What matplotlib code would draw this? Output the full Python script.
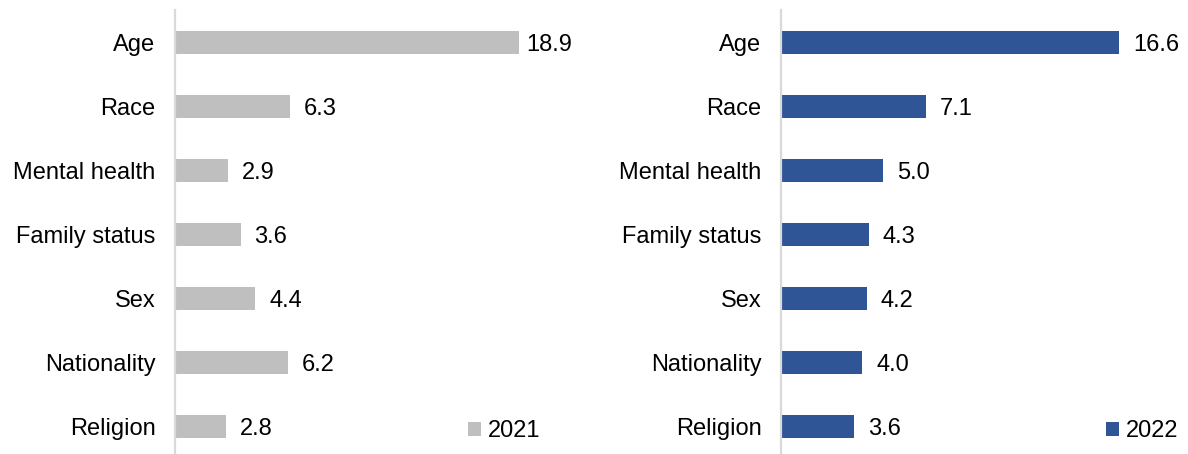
import matplotlib
matplotlib.use("Agg")
import matplotlib.pyplot as plt

categories = ["Age", "Race", "Mental health", "Family status", "Sex", "Nationality", "Religion"]
values_2021 = [18.9, 6.3, 2.9, 3.6, 4.4, 6.2, 2.8]
values_2022 = [16.6, 7.1, 5.0, 4.3, 4.2, 4.0, 3.6]
series = [("2021", values_2021, "#BFBFBF"), ("2022", values_2022, "#2F5597")]

plt.rcParams["font.family"] = ["Liberation Sans", "DejaVu Sans"]
W, H = 1188, 454
fig = plt.figure(figsize=(W / 100, H / 100), dpi=100)

# axes boxes in pixels: (left, right, xmax, legend anchor x)
boxes = [(175, 572, 21.81, 555), (781, 1180, 19.6, 1193)]
top_px, bot_px = 10, 458.5
fs = 17
label_w = 46  # approx pixel width of a 4-char label

for (name, vals, color), (l, r, xmax, lx) in zip(series, boxes):
    ax = fig.add_axes([l / W, (H - bot_px) / H, (r - l) / W, (bot_px - top_px) / H])
    ppu = (r - l) / xmax
    ypos = range(len(categories))
    ax.barh(ypos, vals, height=0.36, color=color, label=name)
    ax.set_ylim(6.5, -0.5)
    ax.set_xlim(0, xmax)
    for y, v in zip(ypos, vals):
        x = v + 14 / ppu
        if x + label_w / ppu > xmax:
            ax.text(xmax, y, f"{v:.1f}", va="center_baseline", ha="right", fontsize=fs)
        else:
            ax.text(x, y, f"{v:.1f}", va="center_baseline", ha="left", fontsize=fs)
    ax.set_yticks(list(ypos))
    ax.set_yticklabels(categories, fontsize=fs, va="center_baseline")
    ax.tick_params(axis="y", length=0, pad=14)
    ax.set_xticks([])
    for s in ["top", "right", "bottom"]:
        ax.spines[s].set_visible(False)
    ax.spines["left"].set_color("#D9D9D9")
    ax.spines["left"].set_linewidth(1.6)
    ax.legend(loc="lower right", bbox_to_anchor=(lx / W, -0.005), bbox_transform=fig.transFigure,
              frameon=False, fontsize=fs,
              handlelength=0.55, handleheight=0.55, handletextpad=0.3, borderaxespad=0.2)

fig.savefig("out.png", dpi=100)
